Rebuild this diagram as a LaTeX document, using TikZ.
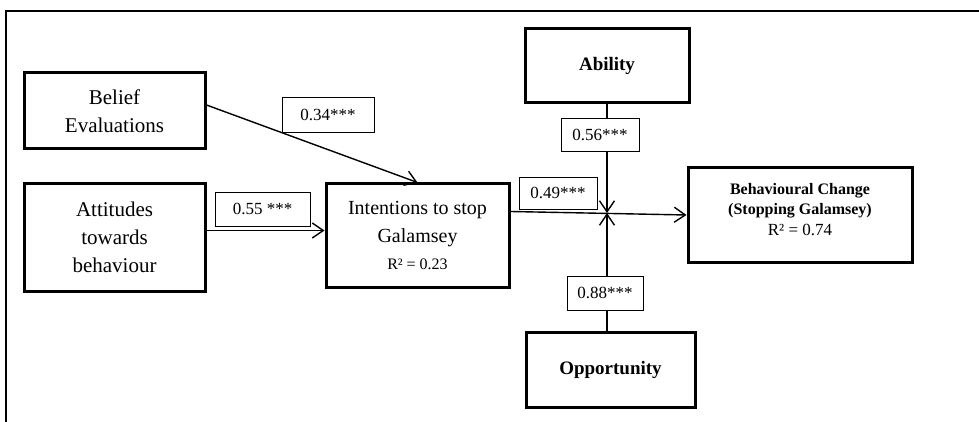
\documentclass[tikz,border=0pt]{standalone}
\usepackage{fontspec}
\setmainfont{Liberation Serif}
\usetikzlibrary{arrows.meta}
\begin{document}
\begin{tikzpicture}[x=1pt,y=-1pt,
  bigbox/.style={draw, line width=3pt, inner sep=0pt, align=center},
  coef/.style={draw, fill=white, line width=0.8pt, inner sep=0pt, font=\fontsize{17}{20}\selectfont},
  conn/.style={line width=1.4pt, -{Straight Barb[length=11pt,width=15pt,line width=1.4pt]}}]
\useasboundingbox (0,0) rectangle (979,422);
\draw[line width=1.5pt] (6,422) -- (6,11) -- (979,11);

\node[bigbox, minimum width=181pt, minimum height=76pt, font=\fontsize{21}{28}\selectfont] (belief) at (114.5,111) {Belief\\Evaluations};
\node[bigbox, minimum width=181pt, minimum height=107pt, font=\fontsize{21}{28}\selectfont] (attitudes) at (114.5,237.5) {Attitudes\\towards\\behaviour};
\node[bigbox, minimum width=183pt, minimum height=103pt, font=\fontsize{20}{28}\selectfont] (intentions) at (417.5,235.5) {Intentions to stop\\Galamsey\\[-1pt]{\fontsize{16}{20}\selectfont R² = 0.23}};
\node[bigbox, minimum width=164pt, minimum height=74pt, font=\fontsize{19}{23}\selectfont\bfseries] (ability) at (607,66) {Ability};
\node[bigbox, minimum width=169pt, minimum height=75pt, font=\fontsize{19}{23}\selectfont\bfseries] (opportunity) at (610.5,369.5) {Opportunity};
\node[bigbox, minimum width=224pt, minimum height=94pt, font=\fontsize{16}{20.5}\selectfont] (behav) at (800,215) {\textbf{Behavioural Change}\\\textbf{(Stopping Galamsey)}\\{\fontsize{17}{20.5}\selectfont R² = 0.74}\\[-8.5pt]};

\coordinate (J) at (607,213);
\draw[conn] ([yshift=6pt]belief.east) -- (intentions.north);
\draw[conn] ([yshift=7pt]attitudes.east) -- ([yshift=7pt]attitudes.east -| intentions.west);
\draw[conn] ([yshift=24pt]intentions.east) -- (behav.west);
\draw[conn] (ability.south -| J) -- (J);
\draw[conn] (opportunity.north -| J) -- (J);

\node[coef, minimum width=92pt, minimum height=35pt] (c34) at (328,114.5) {0.34***};
\node[coef, minimum width=95pt, minimum height=34pt] (c55) at (262.5,209) {0.55 ***};
\node[coef, minimum width=78pt, minimum height=33pt] (c56) at (600,134.5) {0.56***};
\node[coef, minimum width=78pt, minimum height=32pt] (c49) at (558,193) {0.49***};
\node[coef, minimum width=76pt, minimum height=34pt] (c88) at (605,293) {0.88***};
\end{tikzpicture}
\end{document}
